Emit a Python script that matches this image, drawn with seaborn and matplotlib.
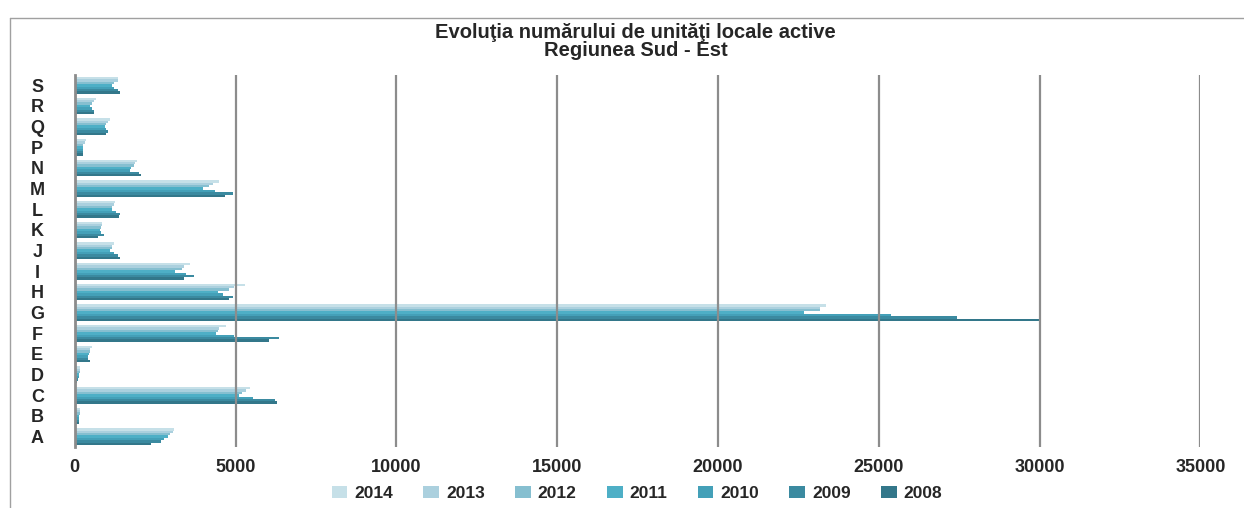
import pandas as pd
import matplotlib
matplotlib.use("Agg")
import matplotlib.pyplot as plt
from matplotlib.lines import Line2D
import seaborn as sns

# categories, bottom (A) to top (S)
categories = ["A", "B", "C", "D", "E", "F", "G", "H", "I", "J", "K", "L", "M", "N", "P", "Q", "R", "S"]

v2014 = [3090, 150, 5460, 170, 530, 4690, 23360, 5300, 3580, 1225, 850, 1235, 4475, 1945, 350, 1110, 660, 1350]
v2013 = [3045, 150, 5320, 160, 470, 4495, 23160, 4960, 3380, 1170, 850, 1215, 4290, 1870, 320, 1035, 590, 1350]
v2012 = [2960, 150, 5190, 150, 460, 4445, 23160, 4790, 3320, 1150, 830, 1170, 4165, 1840, 270, 985, 525, 1210]
v2011 = [2905, 140, 5115, 140, 440, 4380, 22660, 4465, 3130, 1090, 775, 1170, 3975, 1755, 260, 930, 485, 1165]
v2010 = [2785, 140, 5530, 120, 420, 4960, 25390, 4600, 3455, 1225, 830, 1295, 4360, 1715, 260, 985, 535, 1225]
v2009 = [2670, 140, 6215, 90, 400, 6340, 27440, 4915, 3715, 1350, 915, 1420, 4920, 1995, 260, 1045, 590, 1335]
v2008 = [2360, 140, 6280, 70, 460, 6030, 30000, 4790, 3400, 1420, 725, 1360, 4665, 2070, 270, 985, 600, 1415]

years = ["2014", "2013", "2012", "2011", "2010", "2009", "2008"]
series = [v2014, v2013, v2012, v2011, v2010, v2009, v2008]
colors = ["#c6e0e8", "#abd0de", "#86bfd0", "#4eafc6", "#44a0b8", "#3b8aa0", "#33778a"]
PALETTE = dict(zip(years, colors))

rows = []
for year, vals in zip(years, series):
    for cat, v in zip(categories, vals):
        rows.append({"cat": cat, "year": year, "value": v})
df = pd.DataFrame(rows)

sns.set_style("white")
plt.rcParams["font.family"] = ["Liberation Sans", "DejaVu Sans"]
plt.rcParams["font.weight"] = "bold"

fig = plt.figure(figsize=(12.44, 5.08), dpi=100)
ax = fig.add_axes([74.8 / 1244, 61 / 508, (1200.4 - 74.8) / 1244, (447 - 75) / 508])

sns.barplot(data=df, y="cat", x="value", hue="year", order=categories[::-1],
            hue_order=years, palette=PALETTE, orient="h", width=0.8,
            saturation=1, linewidth=0, ax=ax)

ax.set_xlim(0, 35000)
ax.set_xticks(range(0, 35001, 5000))
ax.set_xlabel("")
ax.set_ylabel("")
ax.grid(axis="x", color="#8c8c8c", linewidth=1.6)
ax.grid(axis="y", visible=False)
ax.set_axisbelow(False)
for side in ["top", "right", "bottom"]:
    ax.spines[side].set_visible(False)
ax.spines["left"].set_color("#8c8c8c")
ax.spines["left"].set_linewidth(2)
ax.tick_params(axis="x", length=0, pad=9, labelsize=13)
ax.tick_params(axis="y", length=0, pad=27, labelsize=13)
for t in ax.get_yticklabels():
    t.set_ha("center")
    t.set_fontweight("bold")
for t in ax.get_xticklabels():
    t.set_fontweight("bold")

handles, labels = ax.get_legend_handles_labels()
ax.get_legend().remove()
fig.legend(handles, labels, loc="center", bbox_to_anchor=(0.512, 0.028), ncol=7,
           frameon=False, handlelength=0.9, handleheight=0.7, handletextpad=0.4,
           columnspacing=1.75, prop={"weight": "bold", "size": 12.5})

fig.text(0.511, 1 - 33 / 508, "Evoluţia numărului de unităţi locale active",
         ha="center", va="center", fontsize=14.5, fontweight="bold")
fig.text(0.511, 1 - 51 / 508, "Regiunea Sud - Est",
         ha="center", va="center", fontsize=14.5, fontweight="bold")

# outer frame
fig.add_artist(Line2D([10 / 1244, 10 / 1244], [0, 1 - 18 / 508], transform=fig.transFigure,
                      color="#a0a0a0", linewidth=1))
fig.add_artist(Line2D([10 / 1244, 1], [1 - 18 / 508, 1 - 18 / 508], transform=fig.transFigure,
                      color="#a0a0a0", linewidth=1))

fig.savefig("out.png", dpi=100)
